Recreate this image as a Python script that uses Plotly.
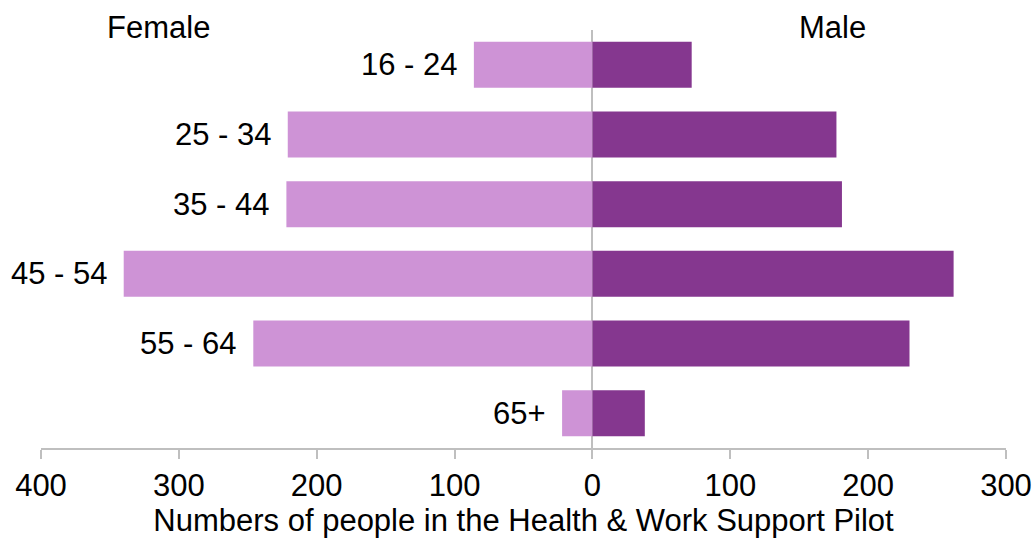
import plotly.graph_objects as go

age_groups = ["16 - 24", "25 - 34", "35 - 44", "45 - 54", "55 - 64", "65+"]
female = [86, 221, 222, 340, 246, 22]
male = [72, 177, 181, 262, 230, 38]
tick_vals = [-400, -300, -200, -100, 0, 100, 200, 300]
tick_text = ["400", "300", "200", "100", "0", "100", "200", "300"]

FONT = "Liberation Sans, Arial, sans-serif"
FS = 31

fig = go.Figure()
fig.add_trace(go.Bar(y=age_groups, x=[-v for v in female], orientation="h",
                     marker=dict(color="#CE93D6", line=dict(width=0)), name="Female",
                     width=0.66))
fig.add_trace(go.Bar(y=age_groups, x=male, orientation="h",
                     marker=dict(color="#85378F", line=dict(width=0)), name="Male",
                     width=0.66))

for cat, v in zip(age_groups, female):
    fig.add_annotation(x=-v, y=cat, text=cat, showarrow=False, xanchor="right",
                       xshift=-14, font=dict(size=FS, color="#000000", family=FONT))

fig.add_annotation(x=-315, y=1, yref="paper", text="Female", showarrow=False,
                   yanchor="middle", yshift=3, font=dict(size=FS, color="#000000", family=FONT))
fig.add_annotation(x=174, y=1, yref="paper", text="Male", showarrow=False,
                   yanchor="middle", yshift=3, font=dict(size=FS, color="#000000", family=FONT))

fig.update_layout(
    width=1036, height=542, barmode="relative",
    margin=dict(l=41, r=30, t=30, b=94, autoexpand=False),
    paper_bgcolor="white", plot_bgcolor="white",
    showlegend=False,
    font=dict(family=FONT, size=FS, color="#000000"),
    xaxis=dict(range=[-400, 300], tickvals=tick_vals, ticktext=tick_text,
               automargin=False,
               showgrid=False, zeroline=True, zerolinecolor="#BFBFBF", zerolinewidth=2,
               showline=True, linecolor="#BFBFBF", linewidth=2,
               ticks="outside", ticklen=9, tickcolor="#BFBFBF", tickwidth=2,
               tickfont=dict(size=FS, family=FONT),
               title=dict(text="Numbers of people in the Health & Work Support Pilot",
                          font=dict(size=FS, family=FONT), standoff=7)),
    yaxis=dict(categoryorder="array", categoryarray=age_groups, autorange="reversed",
               automargin=False,
               showticklabels=False, showgrid=False, zeroline=False, showline=False,
               range=[5.5, -0.5]),
)

fig.write_html("out.html")
